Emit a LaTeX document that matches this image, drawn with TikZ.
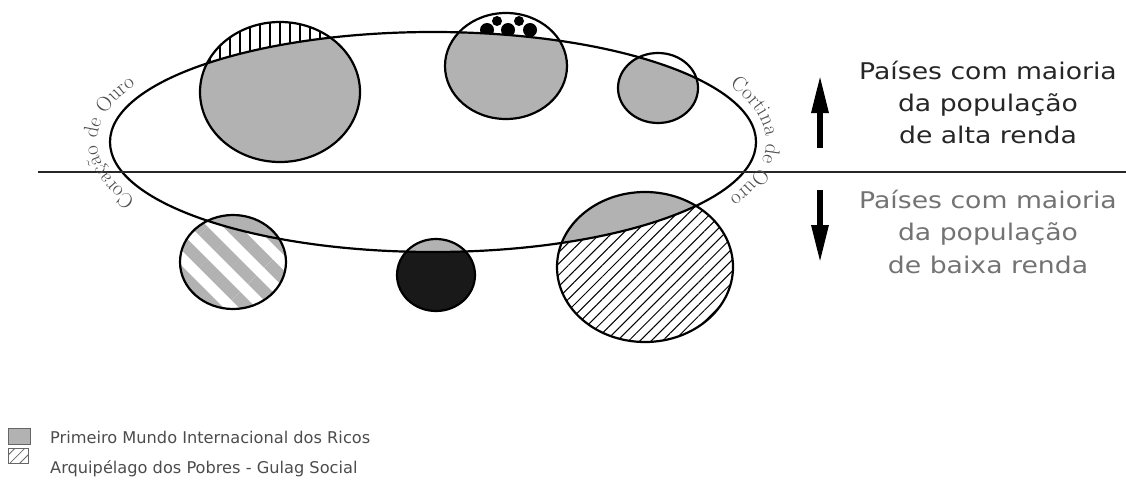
\documentclass[tikz,border=0pt]{standalone}
\usepackage{fontspec}
\usepackage{xcolor}
\usepackage{tikz}
\usetikzlibrary{patterns.meta,arrows.meta,decorations.text}
\newfontfamily\rendafont[FakeStretch=1.16]{DejaVu Sans}
\newfontfamily\legfont{DejaVu Sans}
\newcommand{\rimfont}{\fontsize{21}{21}\selectfont\color{black!70}}
\definecolor{richgray}{gray}{0.70}
\definecolor{darkfill}{gray}{0.10}

\begin{document}
\begin{tikzpicture}[x=1pt,y=1pt,
  ring/.style={draw=black,line width=2.2pt},
  rendatext/.style={font=\rendafont\fontsize{23}{23}\selectfont,anchor=base,inner sep=0pt},
  legtext/.style={font=\legfont\fontsize{16.2}{17}\selectfont,text=black!70,anchor=base west,inner sep=0pt},
  bigarrow/.style={line width=6pt,-{Triangle[length=38pt,width=16pt]}}]
\useasboundingbox (0,0) rectangle (1126,483);
\coordinate (world) at (433,341);
\coordinate (c1) at (280,391);
\coordinate (c2) at (506,417);
\coordinate (c3) at (658,395);
\coordinate (c4) at (233,221);
\coordinate (c5) at (436,208);
\coordinate (c6) at (645,216);
% outside parts
\fill[pattern={Lines[angle=90,distance=10pt,line width=1.8pt]}] (c1) ellipse [x radius=80,y radius=70];
\begin{scope}
\clip (c2) ellipse [x radius=61,y radius=53];
\foreach \p in {(487,453),(508,453),(530,453)} \fill \p circle (7);
\foreach \p in {(497,462),(519,462)} \fill \p circle (5);
\end{scope}
\fill[pattern={Lines[angle=-45,distance=23pt,line width=12pt]},pattern color=gray!60] (c4) ellipse [x radius=53,y radius=47];
\fill[darkfill] (c5) ellipse [x radius=39,y radius=36];
\fill[pattern={Lines[angle=45,distance=8pt,line width=1pt]}] (c6) ellipse [x radius=88,y radius=75];
% inside parts
\begin{scope}
\clip (world) ellipse [x radius=323,y radius=110];
\fill[richgray] (c1) ellipse [x radius=80,y radius=70];
\fill[richgray] (c2) ellipse [x radius=61,y radius=53];
\fill[richgray] (c3) ellipse [x radius=40,y radius=35];
\fill[richgray] (c4) ellipse [x radius=53,y radius=47];
\fill[richgray] (c5) ellipse [x radius=39,y radius=36];
\fill[richgray] (c6) ellipse [x radius=88,y radius=75];
\end{scope}
\draw[ring] (c1) ellipse [x radius=80,y radius=70];
\draw[ring] (c2) ellipse [x radius=61,y radius=53];
\draw[ring] (c3) ellipse [x radius=40,y radius=35];
\draw[ring] (c4) ellipse [x radius=53,y radius=47];
\draw[ring] (c5) ellipse [x radius=39,y radius=36];
\draw[ring] (c6) ellipse [x radius=88,y radius=75];
\draw[ring] (world) ellipse [x radius=323,y radius=110];
\coordinate (axisL) at (38,311);
\coordinate (axisR) at (1126,311);
\draw[line width=2pt,black!85] (axisL) -- (axisR);
\path[decorate,decoration={text along path,text align=center,text={|\rimfont|Coração de Ouro}}]
  (world) ++(214:336 and 123) arc [start angle=214,end angle=146,x radius=336,y radius=123];
\path[decorate,decoration={text along path,text align=center,text={|\rimfont|Cortina de Ouro}}]
  (world) ++(34:333 and 123) arc [start angle=34,end angle=-34,x radius=333,y radius=123];
\coordinate (upfrom) at (820,335);
\coordinate (upto) at (820,408);
\coordinate (downfrom) at (820,293);
\coordinate (downto) at (820,220);
\draw[bigarrow] (upfrom) -- (upto);
\draw[bigarrow] (downfrom) -- (downto);
\node[rendatext,text=black!85] (alta1) at (988,403) {Países com maioria};
\node[rendatext,text=black!85] (alta2) at (988,371) {da população};
\node[rendatext,text=black!85] (alta3) at (988,340) {de alta renda};
\node[rendatext,text=black!55] (baixa1) at (988,275) {Países com maioria};
\node[rendatext,text=black!55] (baixa2) at (988,243) {da população};
\node[rendatext,text=black!55] (baixa3) at (988,210) {de baixa renda};
\fill[richgray,draw=black!60,line width=1pt] (8,39) rectangle (30,55);
\begin{scope}
\clip (8,20) rectangle (28,35);
\fill[pattern={Lines[angle=45,distance=7pt,line width=0.8pt]},pattern color=black!60] (8,20) rectangle (28,35);
\end{scope}
\draw[black!60,line width=0.8pt] (8,20) rectangle (28,35);
\node[legtext] (legrich) at (50,40) {Primeiro Mundo Internacional dos Ricos};
\node[legtext] (legpoor) at (50,10) {Arquipélago dos Pobres - Gulag Social};
\end{tikzpicture}
\end{document}
